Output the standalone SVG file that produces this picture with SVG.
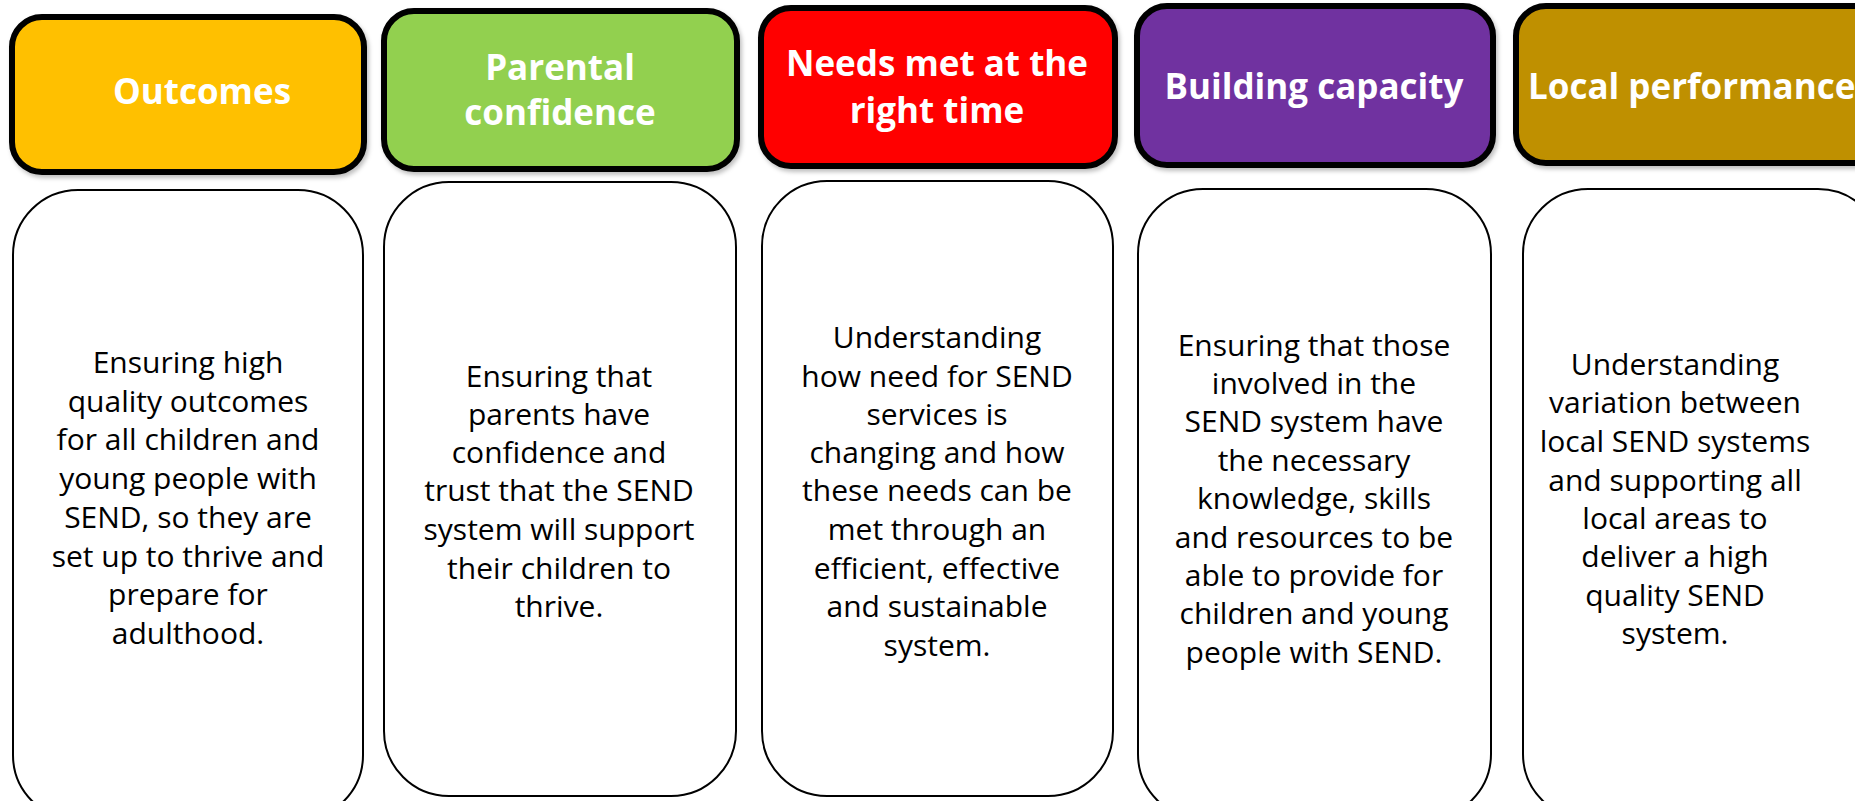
<svg xmlns="http://www.w3.org/2000/svg" width="1855" height="801" viewBox="0 0 1855 801">
<style>
.hdr{stroke:#000;stroke-width:6}
.body{fill:#fff;stroke:#000;stroke-width:2}
.ht{font-family:"Open Sans","Noto Sans",sans-serif;font-weight:bold;font-size:35px;fill:#fff;text-anchor:middle}
.bt{font-family:"Open Sans","Noto Sans",sans-serif;font-size:30px;fill:#000;text-anchor:middle}
</style>
<defs>
<filter id="sh" x="-10%" y="-10%" width="130%" height="130%">
<feDropShadow dx="2" dy="3" stdDeviation="2" flood-color="#000" flood-opacity="0.25"/>
</filter>
</defs>
<rect width="1855" height="801" fill="#fff"/>
<g id="connectors"></g>
<g id="h1"><rect class="hdr" x="12" y="17" width="352" height="155" rx="30" fill="#FFC000" filter="url(#sh)"/><text class="ht" x="202" y="104">Outcomes</text></g>
<g id="h2"><rect class="hdr" x="384" y="11" width="353" height="158" rx="30" fill="#92D050" filter="url(#sh)"/><text class="ht" x="560" y="80">Parental</text><text class="ht" x="560" y="125">confidence</text></g>
<g id="h3"><rect class="hdr" x="761" y="8" width="354" height="158" rx="30" fill="#FF0000" filter="url(#sh)"/><text class="ht" x="937" y="76">Needs met at the</text><text class="ht" x="937" y="123">right time</text></g>
<g id="h4"><rect class="hdr" x="1137" y="6" width="356" height="159" rx="30" fill="#7030A0" filter="url(#sh)"/><text class="ht" x="1314" y="99">Building capacity</text></g>
<g id="h5"><rect class="hdr" x="1516" y="6" width="380" height="157" rx="30" fill="#BF9000" filter="url(#sh)"/><text class="ht" x="1528" y="99" style="text-anchor:start">Local performance</text></g>
<g id="b1"><rect class="body" x="13" y="190" width="350" height="630" rx="65"/>
<text class="bt" x="188"><tspan x="188" y="373">Ensuring high</tspan><tspan x="188" y="412">quality outcomes</tspan><tspan x="188" y="450">for all children and</tspan><tspan x="188" y="489">young people with</tspan><tspan x="188" y="528">SEND, so they are</tspan><tspan x="188" y="567">set up to thrive and</tspan><tspan x="188" y="605">prepare for</tspan><tspan x="188" y="644">adulthood.</tspan></text></g>
<g id="b2"><rect class="body" x="384" y="182" width="352" height="614" rx="65"/>
<text class="bt" x="559"><tspan x="559" y="387">Ensuring that</tspan><tspan x="559" y="425">parents have</tspan><tspan x="559" y="463">confidence and</tspan><tspan x="559" y="501">trust that the SEND</tspan><tspan x="559" y="540">system will support</tspan><tspan x="559" y="579">their children to</tspan><tspan x="559" y="617">thrive.</tspan></text></g>
<g id="b3"><rect class="body" x="762" y="181" width="351" height="615" rx="65"/>
<text class="bt" x="937"><tspan x="937" y="348">Understanding</tspan><tspan x="937" y="387">how need for SEND</tspan><tspan x="937" y="425">services is</tspan><tspan x="937" y="463">changing and how</tspan><tspan x="937" y="501">these needs can be</tspan><tspan x="937" y="540">met through an</tspan><tspan x="937" y="579">efficient, effective</tspan><tspan x="937" y="617">and sustainable</tspan><tspan x="937" y="656">system.</tspan></text></g>
<g id="b4"><rect class="body" x="1138" y="189" width="353" height="630" rx="65"/>
<text class="bt" x="1314"><tspan x="1314" y="356">Ensuring that those</tspan><tspan x="1314" y="394">involved in the</tspan><tspan x="1314" y="432">SEND system have</tspan><tspan x="1314" y="471">the necessary</tspan><tspan x="1314" y="509">knowledge, skills</tspan><tspan x="1314" y="548">and resources to be</tspan><tspan x="1314" y="586">able to provide for</tspan><tspan x="1314" y="624">children and young</tspan><tspan x="1314" y="663">people with SEND.</tspan></text></g>
<g id="b5"><rect class="body" x="1523" y="189" width="360" height="630" rx="65"/>
<text class="bt" x="1675"><tspan x="1675" y="375">Understanding</tspan><tspan x="1675" y="413">variation between</tspan><tspan x="1675" y="452">local SEND systems</tspan><tspan x="1675" y="491">and supporting all</tspan><tspan x="1675" y="529">local areas to</tspan><tspan x="1675" y="567">deliver a high</tspan><tspan x="1675" y="606">quality SEND</tspan><tspan x="1675" y="644">system.</tspan></text></g>
</svg>
